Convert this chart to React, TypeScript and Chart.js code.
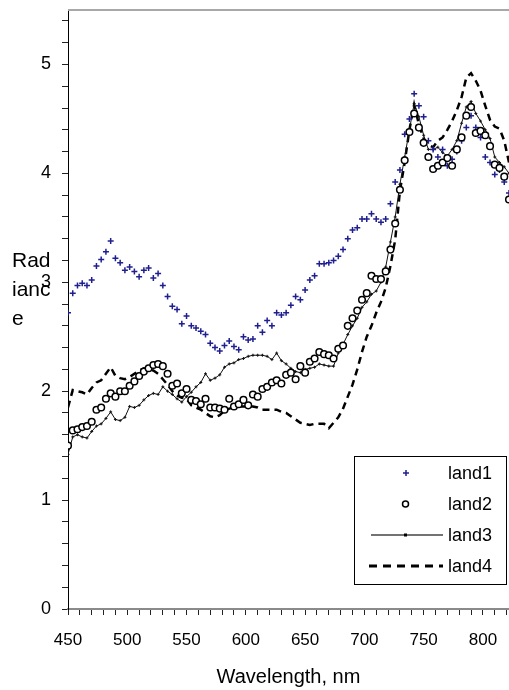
import React, { useEffect, useRef } from "react";
import { Chart, registerables } from "chart.js";

Chart.register(...registerables);

const wavelengths = [
  450, 454, 458, 462, 466, 470, 474, 478, 482, 486,
  490, 494, 498, 502, 506, 510, 514, 518, 522, 526,
  530, 534, 538, 542, 546, 550, 554, 558, 562, 566,
  570, 574, 578, 582, 586, 590, 594, 598, 602, 606,
  610, 614, 618, 622, 626, 630, 634, 638, 642, 646,
  650, 654, 658, 662, 666, 670, 674, 678, 682, 686,
  690, 694, 698, 702, 706, 710, 714, 718, 722, 726,
  730, 734, 738, 742, 746, 750, 754, 758, 762, 766,
  770, 774, 778, 782, 786, 790, 794, 798, 802, 806,
  810, 814, 818, 822,
];

const land1 = [
  2.72, 2.90, 2.97, 2.99, 2.97, 3.02, 3.15, 3.21, 3.28, 3.38,
  3.22, 3.18, 3.11, 3.14, 3.10, 3.05, 3.11, 3.13, 3.04, 3.08,
  2.97, 2.87, 2.78, 2.75, 2.62, 2.69, 2.60, 2.58, 2.55, 2.52,
  2.44, 2.40, 2.37, 2.42, 2.46, 2.41, 2.38, 2.50, 2.47, 2.48,
  2.60, 2.54, 2.65, 2.60, 2.72, 2.70, 2.72, 2.79, 2.87, 2.84,
  2.93, 3.02, 3.06, 3.17, 3.17, 3.18, 3.20, 3.24, 3.30, 3.40,
  3.48, 3.50, 3.58, 3.58, 3.63, 3.58, 3.55, 3.58, 3.72, 3.92,
  4.03, 4.36, 4.50, 4.73, 4.62, 4.52, 4.30, 4.22, 4.15, 4.22,
  4.07, 4.13, 4.20, 4.30, 4.42, 4.53, 4.42, 4.33, 4.15, 4.10,
  3.99, 4.03, 3.92, 3.82,
];

const land2 = [
  1.50, 1.64, 1.65, 1.67, 1.68, 1.72, 1.83, 1.85, 1.93, 1.98,
  1.95, 2.00, 2.00, 2.05, 2.09, 2.14, 2.18, 2.21, 2.24, 2.25,
  2.23, 2.16, 2.05, 2.07, 1.98, 2.02, 1.92, 1.91, 1.88, 1.93,
  1.85, 1.85, 1.84, 1.83, 1.93, 1.86, 1.88, 1.92, 1.87, 1.97,
  1.95, 2.02, 2.04, 2.08, 2.10, 2.07, 2.15, 2.17, 2.11, 2.23,
  2.17, 2.27, 2.30, 2.36, 2.34, 2.33, 2.30, 2.39, 2.42, 2.60,
  2.67, 2.74, 2.84, 2.90, 3.06, 3.03, 3.03, 3.10, 3.30, 3.54,
  3.85, 4.12, 4.38, 4.55, 4.42, 4.28, 4.15, 4.04, 4.07, 4.10,
  4.14, 4.07, 4.22, 4.33, 4.53, 4.61, 4.37, 4.39, 4.35, 4.25,
  4.08, 4.05, 3.97, 3.76,
];

const land3 = [
  1.42, 1.58, 1.60, 1.58, 1.57, 1.63, 1.68, 1.70, 1.75, 1.81,
  1.74, 1.73, 1.76, 1.86, 1.85, 1.87, 1.92, 1.96, 1.98, 1.97,
  2.04, 2.00, 1.97, 1.93, 1.90, 1.95, 1.99, 2.04, 2.08, 2.16,
  2.10, 2.12, 2.15, 2.22, 2.25, 2.26, 2.29, 2.30, 2.32, 2.33,
  2.33, 2.33, 2.32, 2.29, 2.35, 2.28, 2.25, 2.21, 2.18, 2.17,
  2.20, 2.21, 2.22, 2.25, 2.24, 2.23, 2.23, 2.35, 2.43, 2.52,
  2.60, 2.67, 2.77, 2.82, 2.89, 2.92, 3.00, 3.14, 3.37, 3.60,
  3.90, 4.15, 4.40, 4.64, 4.52, 4.35, 4.22, 4.22, 4.24, 4.19,
  4.16, 4.22, 4.30, 4.46, 4.61, 4.66, 4.55, 4.48, 4.40, 4.32,
  4.15, 4.10, 4.06, 4.00,
];

const land4 = [
  1.85, 2.01, 2.00, 1.99, 1.97, 2.03, 2.08, 2.10, 2.16, 2.22,
  2.14, 2.12, 2.11, 2.13, 2.16, 2.19, 2.21, 2.20, 2.19, 2.16,
  2.11, 2.06, 2.00, 1.96, 1.94, 1.93, 1.87, 1.85, 1.83, 1.80,
  1.77, 1.76, 1.78, 1.82, 1.84, 1.85, 1.86, 1.86, 1.86, 1.86,
  1.85, 1.83, 1.83, 1.83, 1.83, 1.81, 1.80, 1.77, 1.74, 1.71,
  1.70, 1.69, 1.70, 1.70, 1.70, 1.66, 1.71, 1.76, 1.84, 1.95,
  2.06, 2.20, 2.36, 2.50, 2.60, 2.72, 2.82, 2.95, 3.15, 3.39,
  3.84, 4.10, 4.40, 4.63, 4.45, 4.32, 4.26, 4.24, 4.30, 4.33,
  4.40, 4.48, 4.58, 4.70, 4.88, 4.92, 4.85, 4.76, 4.62, 4.49,
  4.43, 4.41, 4.30, 4.10,
];

const seriesNames = ["land1", "land2", "land3", "land4"];
const xTickLabels = [450, 500, 550, 600, 650, 700, 750, 800];
const yTickLabels = [0, 1, 2, 3, 4, 5];
const yTitleLines = ["Rad", "ianc", "e"];
const xTitle = "Wavelength, nm";

const FONT = '"Liberation Sans", Arial, Helvetica, sans-serif';
const NAVY = "#1f1f8f";

const pts = (vals: number[]) => wavelengths.map((x, i) => ({ x, y: vals[i] }));

const overlay = {
  id: "overlay",
  afterDraw(chart: any) {
    const ctx: CanvasRenderingContext2D = chart.ctx;
    const { left, right, top } = chart.chartArea;
    ctx.save();
    // top frame line
    ctx.strokeStyle = "#a8a8a8";
    ctx.lineWidth = 2;
    ctx.beginPath();
    ctx.moveTo(left, top);
    ctx.lineTo(right, top);
    ctx.stroke();

    // y title (broken into lines, horizontal)
    ctx.fillStyle = "#000";
    ctx.font = `21px ${FONT}`;
    ctx.textAlign = "left";
    ctx.textBaseline = "alphabetic";
    yTitleLines.forEach((t, i) => ctx.fillText(t, 12, 267 + i * 29));

    // legend
    const bx = 354.5, by = 456.5, bw = 152, bh = 128;
    ctx.fillStyle = "#fff";
    ctx.fillRect(bx, by, bw, bh);
    ctx.strokeStyle = "#000";
    ctx.lineWidth = 1;
    ctx.strokeRect(bx, by, bw, bh);
    const rows = [473, 504, 535, 566];
    ctx.font = `18px ${FONT}`;
    ctx.textBaseline = "middle";
    ctx.fillStyle = "#000";
    seriesNames.forEach((n, i) => ctx.fillText(n, 448, rows[i] + 1));

    // land1 marker
    ctx.strokeStyle = NAVY;
    ctx.lineWidth = 1.5;
    ctx.beginPath();
    ctx.moveTo(403, rows[0]);
    ctx.lineTo(409, rows[0]);
    ctx.moveTo(406, rows[0] - 3);
    ctx.lineTo(406, rows[0] + 3);
    ctx.stroke();
    // land2 marker
    ctx.strokeStyle = "#000";
    ctx.fillStyle = "#fff";
    ctx.beginPath();
    ctx.arc(405.5, rows[1], 3, 0, Math.PI * 2);
    ctx.fill();
    ctx.stroke();
    // land3 marker
    ctx.strokeStyle = "#444";
    ctx.lineWidth = 1.5;
    ctx.beginPath();
    ctx.moveTo(371, rows[2]);
    ctx.lineTo(443, rows[2]);
    ctx.stroke();
    ctx.fillStyle = "#000";
    ctx.fillRect(404, rows[2] - 1.5, 3, 3);
    // land4 marker
    ctx.strokeStyle = "#000";
    ctx.lineWidth = 3;
    ctx.setLineDash([8, 6]);
    ctx.beginPath();
    ctx.moveTo(369, rows[3]);
    ctx.lineTo(443, rows[3]);
    ctx.stroke();
    ctx.setLineDash([]);
    ctx.restore();
  },
};

export default function App() {
  const ref = useRef<HTMLCanvasElement>(null);
  useEffect(() => {
    const chart = new Chart(ref.current as HTMLCanvasElement, {
      type: "scatter",
      data: {
        datasets: [
          {
            label: seriesNames[0],
            data: pts(land1),
            showLine: false,
            pointStyle: "cross",
            pointRadius: 3,
            pointBorderWidth: 1.5,
            pointBorderColor: NAVY,
            borderColor: NAVY,
            order: 1,
          },
          {
            label: seriesNames[1],
            data: pts(land2),
            showLine: false,
            pointStyle: "circle",
            pointRadius: 3.3,
            pointBorderWidth: 1.5,
            pointBorderColor: "#000",
            pointBackgroundColor: "#fff",
            borderColor: "#000",
            order: 0,
          },
          {
            label: seriesNames[2],
            data: pts(land3),
            showLine: true,
            borderColor: "#111",
            borderWidth: 1,
            pointStyle: "cross",
            pointRadius: 1.5,
            pointBorderWidth: 1,
            pointBorderColor: "#111",
            tension: 0,
            order: 2,
          },
          {
            label: seriesNames[3],
            data: pts(land4),
            showLine: true,
            borderColor: "#000",
            borderWidth: 2.5,
            borderDash: [7, 5],
            pointRadius: 0,
            tension: 0,
            order: 3,
          },
        ],
      },
      options: {
        responsive: false,
        animation: false,
        layout: { autoPadding: false, padding: { top: 10, right: 0, left: 0, bottom: 0 } },
        plugins: {
          legend: { display: false },
          tooltip: { enabled: false },
        },
        scales: {
          x: {
            type: "linear",
            min: 450,
            max: 822,
            afterFit: (s: any) => {
              s.height = 81;
              s.paddingLeft = 0;
              s.paddingRight = 0;
            },
            border: { color: "#8a8a8a", width: 2 },
            grid: {
              drawOnChartArea: false,
              drawTicks: true,
              tickLength: 6,
              color: "#222",
            },
            ticks: {
              stepSize: 10,
              includeBounds: false,
              autoSkip: false,
              maxRotation: 0,
              padding: 15,
              color: "#000",
              font: { family: FONT, size: 17 },
              callback: (v: any) => (xTickLabels.includes(Math.round(v)) && Math.abs(v - Math.round(v)) < 1e-6 ? String(Math.round(v)) : ""),
            },
            title: {
              display: true,
              text: xTitle,
              color: "#000",
              font: { family: FONT, size: 20 },
              padding: { top: 0, bottom: 1 },
            },
          },
          y: {
            type: "linear",
            min: 0,
            max: 5.5,
            afterFit: (s: any) => {
              s.width = 68;
              s.paddingTop = 0;
              s.paddingBottom = 0;
            },
            border: { color: "#000", width: 1 },
            grid: {
              drawOnChartArea: false,
              drawTicks: true,
              tickLength: 6,
              color: "#222",
            },
            ticks: {
              stepSize: 0.2,
              includeBounds: false,
              autoSkip: false,
              padding: 11,
              color: "#000",
              font: { family: FONT, size: 18 },
              callback: (v: any) => {
                const r = Math.round(v);
                return Math.abs(v - r) < 1e-6 && yTickLabels.includes(r) ? String(r) : "";
              },
            },
          },
        },
      },
      plugins: [overlay],
    } as any);
    return () => chart.destroy();
  }, []);
  return (
    <div style={{ position: "fixed", left: 0, top: 0, width: 509, height: 690, background: "#fff" }}>
      <canvas ref={ref} width={509} height={690} style={{ width: 509, height: 690, display: "block" }} />
    </div>
  );
}
